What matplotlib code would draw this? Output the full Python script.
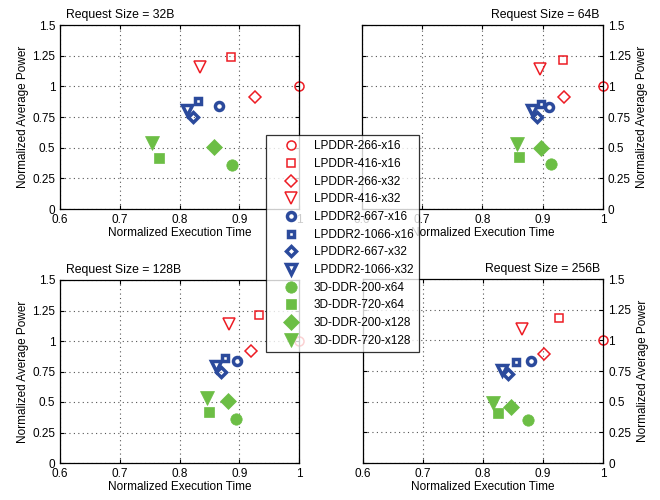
import matplotlib.pyplot as plt

plt.rcParams['font.family'] = ['Liberation Sans', 'DejaVu Sans']
plt.rcParams['font.size'] = 8

# Data
labels = ['LPDDR-266-x16', 'LPDDR-416-x16', 'LPDDR-266-x32', 'LPDDR-416-x32',
          'LPDDR2-667-x16', 'LPDDR2-1066-x16', 'LPDDR2-667-x32', 'LPDDR2-1066-x32',
          '3D-DDR-200-x64', '3D-DDR-720-x64', '3D-DDR-200-x128', '3D-DDR-720-x128']
request_sizes = ['32B', '64B', '128B', '256B']

time_32 = [1.0, 0.887, 0.927, 0.834, 0.866, 0.831, 0.822, 0.813, 0.888, 0.766, 0.857, 0.754]
power_32 = [1.0, 1.236, 0.91, 1.16, 0.842, 0.878, 0.753, 0.81, 0.359, 0.418, 0.505, 0.54]
time_64 = [1.0, 0.933, 0.936, 0.895, 0.910, 0.897, 0.891, 0.883, 0.913, 0.861, 0.898, 0.858]
power_64 = [1.0, 1.215, 0.917, 1.14, 0.835, 0.857, 0.749, 0.808, 0.363, 0.42, 0.50, 0.53]
time_128 = [1.0, 0.933, 0.919, 0.883, 0.897, 0.876, 0.869, 0.861, 0.894, 0.850, 0.882, 0.846]
power_128 = [1.0, 1.214, 0.922, 1.14, 0.832, 0.859, 0.745, 0.796, 0.36, 0.417, 0.505, 0.532]
time_256 = [1.0, 0.927, 0.901, 0.864, 0.880, 0.854, 0.842, 0.832, 0.874, 0.825, 0.847, 0.816]
power_256 = [1.0, 1.182, 0.891, 1.09, 0.834, 0.823, 0.728, 0.755, 0.348, 0.408, 0.454, 0.49]

times = [time_32, time_64, time_128, time_256]
powers = [power_32, power_64, power_128, power_256]

# Marker styles: red hollow, blue thick hollow, green filled
red, blue, green = '#ED1C24', '#2B4A9C', '#6CBE45'
markers = ['o', 's', 'D', 'v'] * 3
red_ms = {'o': 6.5, 's': 5.5, 'D': 6.5, 'v': 8.5}
blue_ms = {'o': 5.8, 's': 4.8, 'D': 5.3, 'v': 7.5}
green_ms = {'o': 8.2, 's': 7.5, 'D': 8, 'v': 10}
styles = []
for i in range(12):
    m = markers[i]
    if i < 4:
        styles.append(dict(mfc='none', mec=red, mew=1.1, ms=red_ms[m]))
    elif i < 8:
        styles.append(dict(mfc='none', mec=blue, mew=2.5, ms=blue_ms[m]))
    else:
        styles.append(dict(mfc=green, mec=green, mew=0.5, ms=green_ms[m]))

fig = plt.figure(figsize=(6.6, 5), dpi=100)
positions = [[0.091, 0.582, 0.362, 0.368],
             [0.5485, 0.582, 0.365, 0.368],
             [0.091, 0.074, 0.362, 0.366],
             [0.55, 0.074, 0.364, 0.368]]

handles = []
for k in range(4):
    ax = fig.add_axes(positions[k])
    for i in range(12):
        h, = ax.plot(times[k][i], powers[k][i], linestyle='none',
                     marker=markers[i], label=labels[i], clip_on=False, **styles[i])
        if k == 0:
            handles.append(h)
    ax.set_xlim(0.6, 1.0)
    ax.set_ylim(0, 1.5)
    ax.set_xticks([0.6, 0.7, 0.8, 0.9, 1.0])
    ax.set_xticklabels(['0.6', '0.7', '0.8', '0.9', '1'])
    ax.set_yticks([0, 0.25, 0.5, 0.75, 1.0, 1.25, 1.5])
    ax.set_yticklabels(['0', '0.25', '0.5', '0.75', '1', '1.25', '1.5'])
    ax.grid(True, linestyle=(0, (1, 3)), color='#555555', linewidth=0.8)
    ax.tick_params(direction='in', length=3, top=True, right=True, labelsize=8.5)
    ax.set_xlabel('Normalized Execution Time', fontsize=8.5, labelpad=1)
    if k % 2 == 1:
        ax.yaxis.tick_right()
        ax.yaxis.set_label_position('right')
        ax.tick_params(axis='y', left=True, direction='in')
        ax.set_ylabel('Normalized Average Power', fontsize=8.5, labelpad=4)
        ax.set_title('Request Size = ' + request_sizes[k], loc='right', x=0.985,
                     fontsize=8.8, pad=5)
    else:
        ax.set_ylabel('Normalized Average Power', fontsize=8.5, labelpad=2)
        ax.set_title('Request Size = ' + request_sizes[k], loc='left', x=0.025,
                     fontsize=8.8, pad=5)
    for s in ax.spines.values():
        s.set_linewidth(0.9)

leg = fig.legend(handles=handles, loc='upper left', bbox_to_anchor=(0.403, 0.73),
                 fontsize=8.5, frameon=True, fancybox=False, edgecolor='black',
                 labelspacing=0.48, handlelength=3.4, handletextpad=0.2,
                 borderpad=0.45, borderaxespad=0)
leg.get_frame().set_linewidth(0.9)
leg.set_zorder(10)

fig.savefig('out.png', dpi=100)
